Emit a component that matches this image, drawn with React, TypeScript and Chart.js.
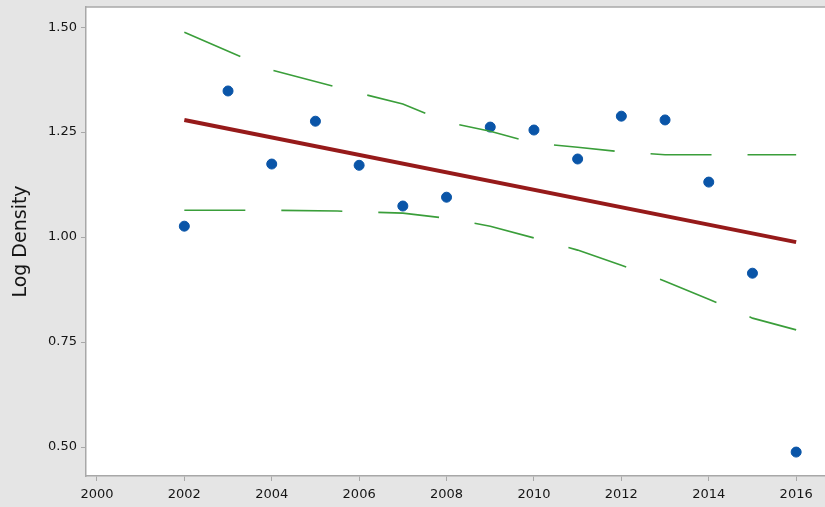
import React, { useEffect, useRef } from "react";
import { Chart, registerables } from "chart.js";

Chart.register(...registerables);

const years = [2002, 2003, 2004, 2005, 2006, 2007, 2008, 2009, 2010, 2011, 2012, 2013, 2014, 2015, 2016];
const logDensity = [1.026, 1.348, 1.174, 1.276, 1.171, 1.074, 1.095, 1.262, 1.255, 1.186, 1.288, 1.279, 1.131, 0.914, 0.488];

const fitYears = [2002, 2016];
const fitValues = [1.279, 0.988];

const upperYears = [2002, 2004, 2006, 2007, 2008, 2009, 2010, 2011, 2012, 2013, 2014, 2016];
const upperValues = [1.488, 1.398, 1.343, 1.317, 1.274, 1.252, 1.224, 1.214, 1.203, 1.196, 1.196, 1.196];

const lowerYears = [2002, 2004, 2005.5, 2007, 2008, 2009, 2010, 2011, 2012, 2013, 2014, 2015, 2016];
const lowerValues = [1.064, 1.064, 1.062, 1.057, 1.045, 1.026, 0.998, 0.969, 0.933, 0.895, 0.852, 0.807, 0.779];

const xTicks = [2000, 2002, 2004, 2006, 2008, 2010, 2012, 2014, 2016];
const yTicks = [0.5, 0.75, 1.0, 1.25, 1.5];

const toXY = (xs: number[], ys: number[]) => xs.map((x, i) => ({ x, y: ys[i] }));

const backgroundPlugin = {
  id: "bgPlugin",
  beforeDraw(chart: any) {
    const { ctx, chartArea, width, height } = chart;
    ctx.save();
    ctx.fillStyle = "#e5e5e5";
    ctx.fillRect(0, 0, width, height);
    ctx.fillStyle = "#ffffff";
    ctx.fillRect(chartArea.left, chartArea.top, width - chartArea.left, chartArea.bottom - chartArea.top);
    ctx.strokeStyle = "#a8a8a8";
    ctx.lineWidth = 1.5;
    ctx.beginPath();
    ctx.moveTo(chartArea.left, chartArea.top);
    ctx.lineTo(width, chartArea.top);
    ctx.stroke();
    ctx.restore();
  },
};

const tickFont = { family: "DejaVu Sans", size: 13 };

export default function App() {
  const ref = useRef<HTMLCanvasElement | null>(null);
  useEffect(() => {
    if (!ref.current) return;
    const chart = new Chart(ref.current, {
      type: "scatter",
      data: {
        datasets: [
          {
            type: "line",
            data: toXY(upperYears, upperValues),
            borderColor: "#3a9e3a",
            borderWidth: 1.6,
            borderDash: [61, 36],
            pointRadius: 0,
            fill: false,
            tension: 0,
          } as any,
          {
            type: "line",
            data: toXY(lowerYears, lowerValues),
            borderColor: "#3a9e3a",
            borderWidth: 1.6,
            borderDash: [61, 36],
            pointRadius: 0,
            fill: false,
            tension: 0,
          } as any,
          {
            type: "line",
            data: toXY(fitYears, fitValues),
            borderColor: "#961a1a",
            borderWidth: 4,
            pointRadius: 0,
            fill: false,
          } as any,
          {
            type: "scatter",
            data: toXY(years, logDensity),
            backgroundColor: "#0a55a8",
            borderColor: "#0a55a8",
            pointRadius: 5,
            pointStyle: "circle",
          },
        ],
      },
      options: {
        animation: false,
        responsive: false,
        maintainAspectRatio: false,
        layout: { autoPadding: false, padding: { top: 7, right: 0, left: 0, bottom: 0 } },
        plugins: {
          legend: { display: false },
          tooltip: { enabled: false },
        },
        scales: {
          x: {
            type: "linear",
            min: 1999.75,
            max: 2016.66,
            afterBuildTicks: (scale: any) => {
              scale.ticks = xTicks.map((v) => ({ value: v }));
            },
            afterFit: (scale: any) => {
              scale.height = 31;
              scale.paddingLeft = 0;
              scale.paddingRight = 0;
            },
            grid: { display: true, drawOnChartArea: false, drawTicks: true, tickLength: 5, color: "#a8a8a8" },
            border: { display: true, color: "#a8a8a8", width: 1.5 },
            ticks: {
              color: "#151515",
              font: tickFont,
              padding: 6,
              maxRotation: 0,
              autoSkip: false,
              callback: (v: any) => String(v),
            },
          },
          y: {
            type: "linear",
            min: 0.431,
            max: 1.548,
            afterBuildTicks: (scale: any) => {
              scale.ticks = yTicks.map((v) => ({ value: v }));
            },
            afterFit: (scale: any) => {
              scale.width = 86;
              scale.paddingTop = 0;
              scale.paddingBottom = 0;
            },
            grid: { display: true, drawOnChartArea: false, drawTicks: true, tickLength: 5, color: "#a8a8a8" },
            border: { display: true, color: "#a8a8a8", width: 1.5 },
            ticks: {
              color: "#151515",
              font: tickFont,
              padding: 4,
              autoSkip: false,
              callback: (v: any) => Number(v).toFixed(2),
            },
            title: {
              display: true,
              text: "Log Density",
              color: "#151515",
              font: { family: "DejaVu Sans", size: 19 },
              padding: { top: 10, bottom: 4 },
            },
          },
        },
      },
      plugins: [backgroundPlugin],
    });
    return () => chart.destroy();
  }, []);
  return (
    <div style={{ position: "absolute", left: 0, top: 0, width: 825, height: 507 }}>
      <canvas ref={ref} width={825} height={507} style={{ width: 825, height: 507, display: "block" }} />
    </div>
  );
}
